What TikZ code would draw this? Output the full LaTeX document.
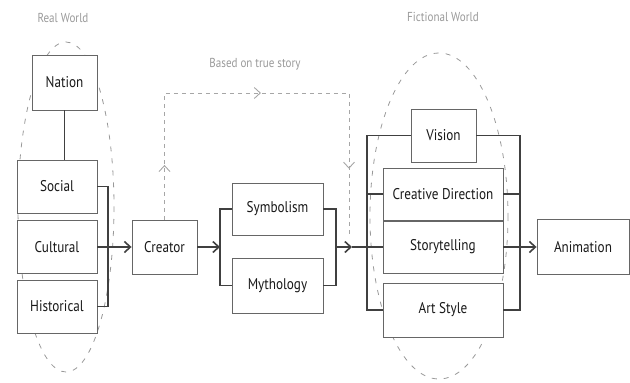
\documentclass[tikz,border=0pt]{standalone}
\usepackage{fontspec}
\setmainfont[FakeStretch=0.85]{PT Sans}
\usepackage{tikz}
\usetikzlibrary{arrows.meta, calc, decorations.markings}
\tikzset{
  box/.style={draw=black!60, line width=0.9pt, fill=white, inner sep=0pt,
    minimum width=#1, font=\fontsize{15.5}{17}\selectfont, text=black!90},
  box/.default=80pt,
  conn/.style={draw=black!75, line width=1.6pt},
  world/.style={draw=black!40, line width=0.8pt, dash pattern=on 5pt off 7pt},
  truestory/.style={draw=black!35, line width=0.9pt, dash pattern=on 4pt off 4pt},
  graylabel/.style={text=black!40, font=\fontsize{13}{15}\selectfont}
}

\begin{document}
\begin{tikzpicture}[x=1pt, y=-1pt, >={Straight Barb[length=6pt,width=11pt]}]
\useasboundingbox (0,0) rectangle (630,383);

% the two worlds
\draw[world] (66,207) ellipse [x radius=48, y radius=165];
\draw[world] (439,216) ellipse [x radius=69, y radius=163];
\node[graylabel] (realLabel) at (63,18) {Real World};
\node[graylabel] (fictLabel) at (443,17) {Fictional World};

% real world
\node[box=65pt, minimum height=55pt] (nation) at (64.5,82.5) {Nation};
\node[box, minimum height=53pt] (social) at (57,186.5) {Social};
\node[box, minimum height=53pt] (cultural) at (57,247) {Cultural};
\node[box, minimum height=53pt] (historical) at (57,306.5) {Historical};

\node[box=65pt, minimum height=54pt] (creator) at (164.5,247) {Creator};

\node[box=91pt, minimum height=52pt] (symbolism) at (277.5,209) {Symbolism};
\node[box=91pt, minimum height=55pt] (mythology) at (277.5,285.5) {Mythology};

% fictional world
\node[box=65pt, minimum height=53pt] (vision) at (443.5,135.5) {Vision};
\node[box=120pt, minimum height=52pt] (creative) at (443,194) {Creative Direction};
\node[box=120pt, minimum height=52pt] (storytelling) at (443,247) {Storytelling};
\node[box=120pt, minimum height=54pt] (artstyle) at (443,310) {Art Style};

\node[box=92pt, minimum height=55pt] (animation) at (583,247) {Animation};

% joints
\coordinate (realJoin) at (108,0);
\coordinate (symJoin) at (220,0);
\coordinate (mythJoin) at (336,0);
\coordinate (fictTip) at (352,0);
\coordinate (fictJoin) at (367,0);
\coordinate (animJoin) at (520,0);

\draw[conn] (nation.south) -- (nation.south |- social.north);
\draw[conn] (social.east) -- (social.east -| realJoin) -- (historical.east -| realJoin) -- (historical.east);
\draw[conn, ->] (cultural.east) -- (creator.west);

\draw[conn, ->] (creator.east) -- (creator.east -| symJoin);
\draw[conn] (symbolism.west) -- (symbolism.west -| symJoin) -- (mythology.west -| symJoin) -- (mythology.west);
\draw[conn] (symbolism.east) -- (symbolism.east -| mythJoin) -- (mythology.east -| mythJoin) -- (mythology.east);

\draw[conn, ->] (creator.east -| mythJoin) -- (creator.east -| fictTip);
\draw[conn] (creator.east -| fictTip) -- (storytelling.west);

\draw[conn] (vision.west) -- (vision.west -| fictJoin) -- (artstyle.west -| fictJoin) -- (artstyle.west);
\draw[conn] (creative.west -| fictJoin) -- (creative.west);
\draw[conn] (vision.east) -- (vision.east -| animJoin) -- (artstyle.east -| animJoin) -- (artstyle.east);
\draw[conn] (creative.east) -- (creative.east -| animJoin);
\draw[conn, ->] (storytelling.east) -- (animation.west);

% based on true story
\coordinate (storyBend) at (349,93);
\coordinate (storyEnd) at (349,237);
\draw[truestory, postaction={decorate}, decoration={markings,
    mark=at position 0.12 with {\arrow[black!35, line width=0.9pt]{>}},
    mark=at position 0.49 with {\arrow[black!35, line width=0.9pt]{>}},
    mark=at position 0.85 with {\arrow[black!35, line width=0.9pt]{>}}}]
  (creator.north) |- (storyBend) -- (storyEnd);
\node[graylabel] (storyLabel) at (255,64) {Based on true story};

\end{tikzpicture}
\end{document}
